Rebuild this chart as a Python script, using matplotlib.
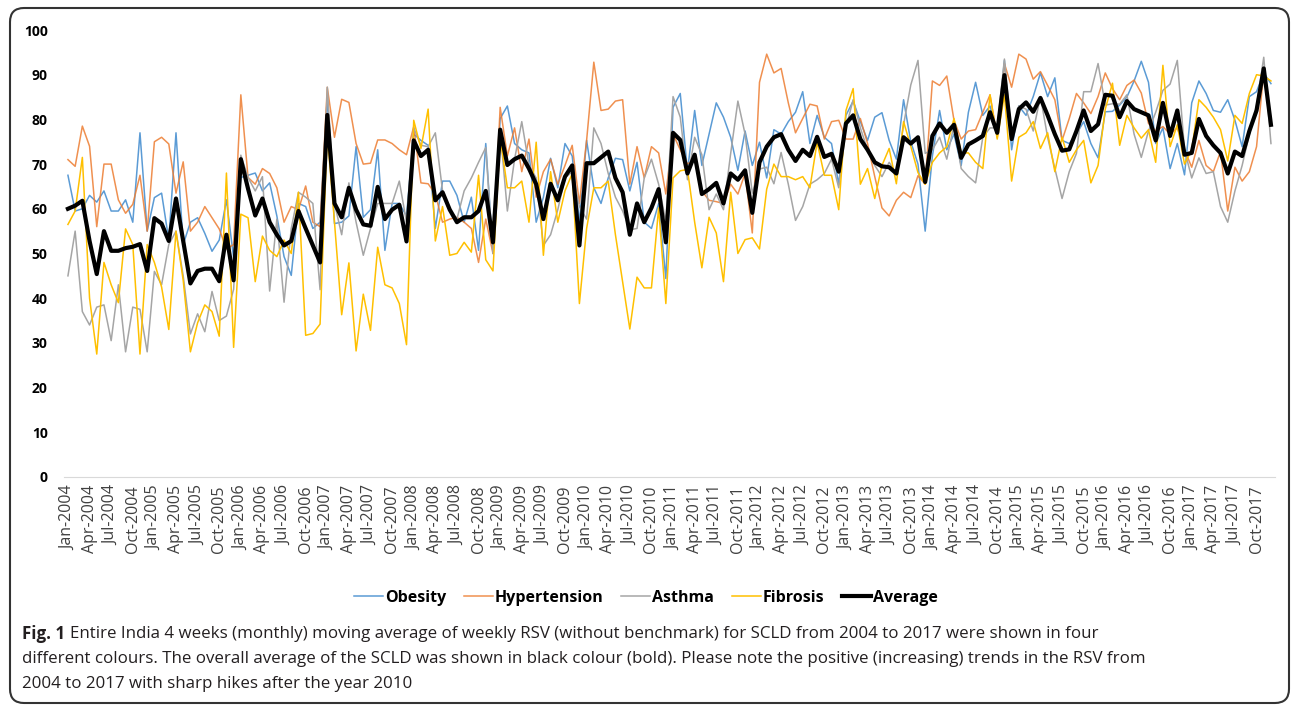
import numpy as np
import pandas as pd
import matplotlib
matplotlib.use("Agg")
import matplotlib.pyplot as plt
from matplotlib.patches import FancyBboxPatch

# monthly RSV, Jan-2004 .. Dec-2017
months = pd.date_range("2004-01-01", "2017-12-01", freq="MS")

obesity = [
    67.5, 59.5, 60.0, 63.0, 61.5, 64.0, 59.5, 59.5, 62.0, 57.0, 77.0, 55.0,
    62.5, 63.5, 53.0, 77.0, 52.0, 57.0, 58.0, 54.5, 50.5, 53.0, 62.0, 49.0,
    67.0, 67.5, 68.0, 64.0, 65.8, 58.4, 49.3, 45.1, 61.2, 60.5, 55.6, 57.0,
    85.0, 56.7, 57.0, 58.4, 73.9, 58.1, 59.8, 73.2, 50.7, 61.2, 61.2, 58.4,
    76.7, 75.3, 74.2, 55.6, 66.2, 66.2, 63.0, 57.0, 62.6, 50.7, 74.6, 50.0,
    80.2, 83.0, 74.6, 73.2, 72.5, 57.0, 62.6, 71.3, 64.7, 74.6, 71.8, 57.0,
    75.3, 64.7, 61.2, 66.9, 71.3, 71.0, 64.0, 70.4, 57.0, 55.6, 61.2, 44.4,
    82.7, 85.8, 68.3, 82.0, 69.7, 76.7, 83.7, 80.5, 76.0, 68.6, 77.4, 69.7,
    74.9, 66.9, 77.7, 76.7, 79.5, 81.6, 86.2, 74.6, 80.9, 76.0, 74.6, 65.5,
    80.9, 84.1, 79.5, 75.3, 80.5, 81.5, 75.3, 71.1, 84.4, 75.0, 70.0, 55.0,
    71.8, 82.0, 73.2, 76.7, 69.7, 81.6, 88.3, 80.9, 83.0, 76.7, 93.2, 73.2,
    83.0, 80.9, 85.1, 90.4, 85.1, 89.3, 75.3, 74.6, 76.7, 79.5, 74.6, 71.4,
    81.7, 81.8, 83.2, 85.0, 88.6, 93.0, 88.3, 74.6, 78.1, 69.0, 74.6, 67.6,
    83.7, 88.6, 85.8, 82.0, 81.6, 84.4, 79.8, 73.9, 85.1, 86.2, 90.4, 88.0,
]

hypertension = [
    71.0, 69.5, 78.5, 74.0, 56.0, 70.0, 70.0, 62.0, 59.0, 61.0, 67.5, 55.0,
    75.0, 76.0, 74.5, 63.5, 70.5, 55.0, 57.0, 60.5, 58.0, 55.5, 51.0, 52.0,
    85.5, 67.0, 65.5, 69.0, 67.9, 64.7, 57.0, 60.5, 59.8, 65.1, 57.0, 56.0,
    87.2, 76.0, 84.5, 83.8, 74.6, 70.0, 70.2, 75.4, 75.4, 74.6, 73.2, 72.1,
    78.4, 65.8, 65.6, 63.3, 57.0, 57.7, 58.1, 57.0, 55.6, 48.0, 57.7, 50.0,
    82.7, 71.8, 78.1, 68.3, 75.6, 62.6, 68.3, 71.1, 65.5, 69.7, 74.2, 61.2,
    75.3, 92.8, 82.0, 82.3, 84.1, 84.4, 65.5, 73.9, 66.9, 73.9, 72.5, 63.3,
    76.7, 73.2, 70.0, 71.1, 64.0, 61.9, 61.6, 61.2, 65.5, 63.3, 67.9, 54.6,
    88.3, 94.6, 90.4, 91.4, 83.7, 77.0, 80.2, 83.4, 83.0, 75.6, 79.5, 79.8,
    75.6, 75.6, 80.2, 74.6, 67.2, 60.2, 58.4, 61.9, 63.7, 62.5, 67.4, 65.5,
    88.6, 87.6, 89.7, 79.8, 75.6, 77.4, 77.7, 81.6, 85.5, 76.0, 92.5, 87.2,
    94.6, 93.5, 89.0, 90.7, 87.6, 84.4, 75.3, 80.2, 85.8, 83.7, 81.3, 85.1,
    90.4, 86.9, 84.4, 87.6, 88.8, 85.9, 79.1, 77.4, 78.4, 76.7, 78.1, 73.2,
    69.3, 75.3, 69.7, 68.3, 72.8, 59.5, 69.3, 66.2, 68.3, 73.9, 90.7, 80.0,
]

asthma = [
    45.0, 55.0, 37.0, 34.0, 38.0, 38.5, 30.5, 43.0, 28.0, 38.0, 37.5, 28.0,
    46.0, 43.0, 52.0, 55.0, 45.0, 32.0, 36.5, 32.5, 41.5, 35.0, 36.0, 42.0,
    72.0, 67.0, 64.0, 67.2, 41.6, 57.7, 39.1, 55.6, 63.7, 62.6, 61.2, 41.9,
    87.2, 61.2, 54.2, 65.8, 57.0, 49.6, 55.6, 61.2, 61.2, 61.2, 66.2, 57.0,
    78.1, 74.2, 73.9, 77.0, 64.0, 59.8, 57.7, 64.0, 66.9, 70.4, 73.7, 50.0,
    77.7, 59.5, 71.1, 79.5, 69.7, 66.9, 51.8, 54.2, 59.8, 66.9, 68.3, 60.5,
    57.7, 78.1, 74.6, 67.9, 62.6, 59.5, 55.3, 55.6, 66.9, 71.1, 65.5, 57.0,
    85.1, 80.5, 66.5, 76.0, 72.1, 59.8, 63.3, 59.8, 72.4, 84.1, 76.7, 63.5,
    68.9, 69.3, 65.6, 72.6, 65.5, 57.4, 60.5, 65.5, 66.5, 67.9, 71.1, 64.7,
    78.1, 84.4, 78.1, 73.2, 69.7, 67.2, 70.4, 67.9, 78.8, 87.7, 93.2, 72.4,
    73.2, 76.0, 71.1, 78.8, 69.0, 67.2, 65.8, 76.0, 78.1, 78.1, 93.5, 76.0,
    83.0, 82.3, 77.4, 85.1, 76.0, 69.0, 62.3, 68.3, 72.4, 86.2, 86.2, 92.5,
    83.2, 83.5, 83.4, 85.5, 76.7, 71.5, 77.4, 81.6, 86.5, 87.9, 93.2, 73.2,
    66.9, 71.4, 67.9, 68.3, 60.5, 57.0, 64.0, 69.7, 76.7, 83.0, 93.9, 74.6,
]

fibrosis = [
    56.5, 59.5, 71.5, 40.0, 27.5, 48.0, 43.0, 39.0, 55.5, 52.0, 27.5, 52.0,
    48.0, 42.5, 33.0, 55.0, 44.0, 28.0, 34.5, 38.5, 37.0, 31.5, 68.0, 29.0,
    58.8, 58.0, 43.7, 53.9, 50.7, 49.3, 53.0, 50.0, 63.7, 31.7, 32.1, 34.2,
    76.7, 57.0, 36.3, 47.9, 28.2, 40.9, 32.8, 51.4, 43.0, 42.3, 38.8, 29.6,
    79.8, 73.5, 82.3, 52.8, 60.5, 49.6, 50.0, 52.5, 50.3, 67.5, 48.6, 46.1,
    76.0, 64.7, 64.7, 66.2, 57.0, 74.9, 49.6, 68.3, 57.0, 64.0, 67.9, 38.8,
    55.6, 64.7, 64.7, 66.2, 54.2, 43.7, 33.1, 44.7, 42.3, 42.3, 60.2, 38.8,
    66.9, 68.5, 68.8, 57.0, 46.8, 58.1, 54.6, 43.7, 63.7, 50.0, 53.1, 53.5,
    51.0, 64.4, 70.0, 67.2, 67.2, 66.5, 67.2, 64.7, 74.9, 67.5, 67.5, 59.8,
    82.0, 86.9, 65.5, 69.0, 62.3, 69.7, 73.5, 65.6, 79.5, 74.0, 68.1, 65.5,
    70.4, 72.5, 73.9, 80.2, 72.5, 72.5, 70.4, 69.0, 85.5, 75.6, 85.5, 66.2,
    76.0, 77.0, 79.5, 73.5, 77.0, 68.3, 76.0, 70.4, 73.2, 75.3, 65.8, 69.7,
    82.3, 88.1, 74.2, 80.9, 78.1, 75.8, 77.7, 70.4, 92.1, 73.9, 78.8, 70.0,
    73.2, 84.4, 82.7, 80.5, 77.7, 70.7, 80.9, 79.1, 85.8, 90.0, 89.7, 88.6,
]

average = [
    60.0, 60.7, 61.8, 52.8, 45.4, 55.0, 50.6, 50.6, 51.2, 51.5, 52.1, 46.1,
    57.9, 56.7, 52.8, 62.3, 52.8, 43.3, 46.1, 46.6, 46.6, 43.8, 54.2, 44.0,
    71.1, 64.5, 58.5, 62.3, 57.0, 54.2, 51.8, 52.8, 59.5, 55.6, 51.8, 48.0,
    81.0, 61.2, 58.1, 64.7, 59.8, 56.5, 56.2, 64.9, 57.7, 59.8, 60.9, 52.7,
    75.3, 71.8, 73.2, 61.9, 63.7, 59.8, 57.0, 58.1, 58.1, 59.5, 64.0, 52.5,
    77.7, 69.8, 71.1, 71.9, 69.0, 65.5, 57.7, 65.6, 61.9, 67.2, 69.7, 51.8,
    70.2, 70.2, 71.5, 72.8, 66.9, 63.7, 54.2, 61.2, 57.0, 60.2, 64.4, 52.5,
    77.0, 75.4, 67.9, 72.1, 63.3, 64.4, 65.8, 61.2, 67.9, 66.5, 68.6, 59.1,
    70.4, 73.9, 76.0, 76.7, 73.2, 70.7, 73.2, 71.8, 76.1, 71.6, 72.3, 68.3,
    79.1, 80.9, 75.6, 73.2, 70.4, 69.5, 69.3, 67.9, 76.0, 74.6, 76.0, 66.0,
    76.3, 79.1, 77.0, 78.8, 71.4, 74.4, 75.3, 76.3, 81.6, 77.0, 89.9, 75.6,
    82.3, 83.8, 81.7, 84.8, 80.9, 76.7, 73.0, 73.3, 77.4, 82.0, 77.4, 78.9,
    85.5, 85.3, 80.5, 84.1, 82.3, 81.6, 80.9, 75.3, 83.7, 76.3, 82.0, 72.1,
    72.5, 80.1, 76.3, 74.2, 72.5, 67.9, 72.8, 71.8, 77.4, 82.0, 91.4, 78.8,
]

fig = plt.figure(figsize=(12.92, 7.06), dpi=100)
ax = fig.add_axes([0.0498, 0.3244, 0.9367, 0.6331])

x = np.arange(len(months))
ax.plot(x, obesity, color="#5B9BD5", lw=1.1, label="Obesity")
ax.plot(x, hypertension, color="#ED7D31", lw=1.1, alpha=0.85, label="Hypertension")
ax.plot(x, asthma, color="#A5A5A5", lw=1.1, label="Asthma")
ax.plot(x, fibrosis, color="#FFC000", lw=1.1, label="Fibrosis")
ax.plot(x, average, color="black", lw=3.0, label="Average")

ax.set_xlim(-0.5, len(months) - 0.5)
ax.set_ylim(0, 100)
ax.set_yticks(range(0, 101, 10))
ax.set_yticklabels([str(v) for v in range(0, 101, 10)],
                   fontsize=10, fontweight="bold", family="Open Sans")
tick_pos = x[::3]
tick_lab = [m.strftime("%b-%Y") for m in months[::3]]
ax.set_xticks(tick_pos)
ax.set_xticklabels(tick_lab, rotation=90, fontsize=11.5, family="Open Sans",
                   color="#404040")
ax.tick_params(length=0, pad=6)
ax.tick_params(axis="y", pad=12)
for s in ["top", "right", "left"]:
    ax.spines[s].set_visible(False)
ax.spines["bottom"].set_color("#D9D9D9")

leg = fig.legend(loc="center", bbox_to_anchor=(0.5, 0.153), ncol=5,
                 frameon=False, handlelength=1.8, handletextpad=0.15,
                 columnspacing=1.1,
                 prop={"family": "Open Sans", "weight": "bold", "size": 11.5})

# caption
cap_lines = [
    "Entire India 4 weeks (monthly) moving average of weekly RSV (without benchmark) for SCLD from 2004 to 2017 were shown in four",
    "different colours. The overall average of the SCLD was shown in black colour (bold). Please note the positive (increasing) trends in the RSV from",
    "2004 to 2017 with sharp hikes after the year 2010",
]
fig.canvas.draw()
r = fig.canvas.get_renderer()
y0 = 1 - 634 / 706
t = fig.text(22 / 1292, y0, "Fig. 1", fontsize=12.2, fontweight="bold",
             family="Open Sans", color="#231F20", va="center")
bb = t.get_window_extent(r)
fig.text((bb.x1 + 5) / 1292, y0, cap_lines[0], fontsize=12.2,
         family="Open Sans", color="#231F20", va="center")
fig.text(22 / 1292, 1 - 659 / 706, cap_lines[1], fontsize=12.2,
         family="Open Sans", color="#231F20", va="center")
fig.text(22 / 1292, 1 - 684 / 706, cap_lines[2], fontsize=12.2,
         family="Open Sans", color="#231F20", va="center")

frame = FancyBboxPatch((10, 3), 1279, 695, boxstyle="round,pad=0,rounding_size=14",
                       transform=None, fill=False, ec="#333333", lw=1.5)
fig.add_artist(frame)

fig.savefig("out.png", dpi=100)
